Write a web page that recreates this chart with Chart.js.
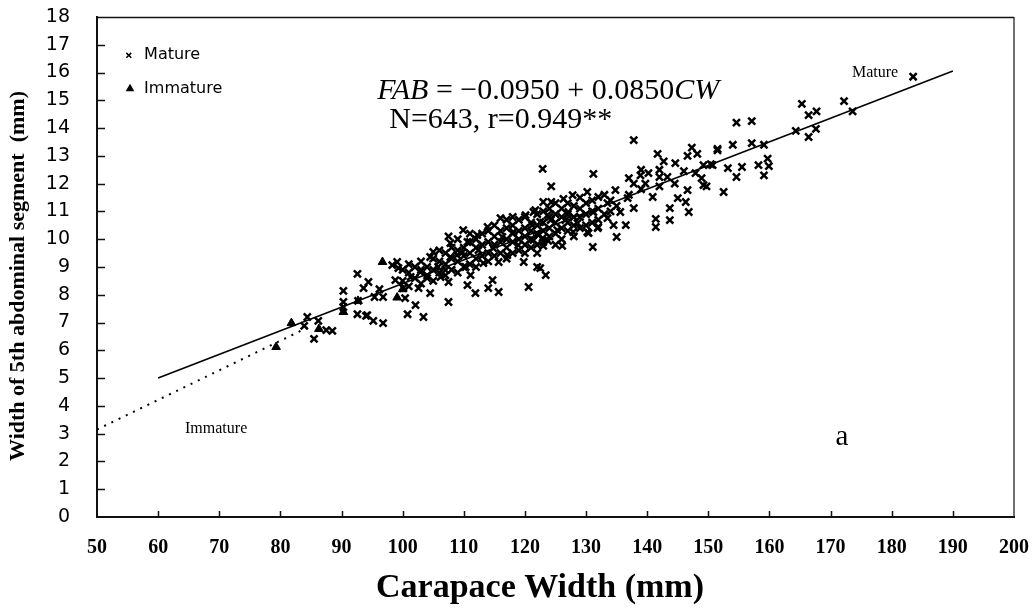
<!DOCTYPE html>
<html><head><meta charset="utf-8">
<script src="https://cdn.jsdelivr.net/npm/chart.js@4/dist/chart.umd.min.js"></script>
<style>html,body{margin:0;padding:0;background:#fff;}canvas{display:block;}</style>
</head><body>
<canvas id="c" width="1035" height="609"></canvas>
<script>
// Carapace width (mm) vs width of 5th abdominal segment (mm)
const maturePoints = [
 [83.9,6.88],[84.4,7.2],[85.5,6.41],[86.2,7.06],[87.5,6.73],[88.5,6.7],
 [90.3,8.14],[90.3,7.74],[90.3,7.56],[92.6,8.75],[92.6,7.3],[92.7,7.78],[93.6,8.24],[94.0,7.24],[94.2,7.27],[94.4,8.46],[95.2,7.06],[95.4,7.92],[96.2,8.2],[96.8,7.92],[96.8,6.98],
 [98.3,9.07],[98.8,8.53],[99.1,9.18],[99.3,8.96],[100.1,8.24],[100.4,7.88],[100.8,7.3],[101.3,8.64],[102.1,7.63],[102.6,8.24],[102.9,8.82],[103.4,7.2],[104.0,8.6],[104.5,8.06],[104.5,9.36],[105.0,9.54],[105.8,9.0],[106.2,8.64],[107.0,8.89],[107.5,8.46],[107.5,7.74],[107.5,10.1],[107.8,9.86],[107.8,9.36],[108.9,9.43],[109.9,10.33],[109.8,9.54],[110.3,9.0],[110.6,9.9],[110.6,8.35],[111.1,8.71],[111.9,8.06],[112.2,10.15],[112.4,9.61],[113.2,9.14],[113.9,10.44],[114.0,8.24],[114.7,8.53],[114.8,9.68],[115.7,8.1],[115.7,9.18],[116.0,10.76],[116.3,10.08],[117.1,9.43],[118.0,10.8],[118.1,10.26],[118.9,9.79],[119.8,9.18],[120.6,8.28],[120.1,10.87],[121.2,10.51],[121.7,11.05],[122.5,8.96],[123.4,8.71],[122.9,10.04],[123.0,11.34],[123.7,10.87],
 [122.9,12.53],[131.2,12.35],[124.3,11.9],[137.8,13.57],[141.7,13.07],[142.7,12.8],[144.6,12.74],[146.0,12.45],[147.3,13.3],[148.2,13.07],[146.6,13.0],[149.2,12.67],[151.5,13.2],[150.7,12.67],[152.5,11.7],[138.9,12.3],[140.2,12.38],[142.0,12.24],[143.3,12.24],[144.5,12.0],[147.9,12.38],[149.2,11.95],[146.6,11.77],[145.0,11.48],[146.3,11.34],[143.7,11.12],[146.8,10.98],[141.4,10.73],[143.7,10.69],[141.4,10.44],[140.9,11.52],[137.8,12.0],[139.7,12.0],[134.8,11.77],[136.8,11.48],[137.8,11.12],[135.6,10.98],[136.5,10.51],[135.0,10.08],[133.5,11.3],[132.0,11.52],[130.2,11.7],[127.8,11.59],[126.3,11.45],[124.3,11.34],[121.4,10.98],[127.1,10.98],[131.2,10.98],[133.5,10.76],[131.9,10.4],[130.4,10.22],[128.6,10.58],[126.6,10.69],[124.2,10.69],[122.5,10.62],[125.3,10.33],[127.9,10.26],[130.2,10.26],[132.0,10.44],[134.5,10.51],[131.1,9.72],[126.1,9.76],[123.8,9.94],[122.2,10.15],[122.0,9.5],[123.0,9.76],[122.0,9.0],[121.4,9.97],
 [154.6,14.2],[157.1,14.25],[154.0,13.4],[157.1,13.46],[159.1,13.4],[159.7,12.9],[158.2,12.67],[159.9,12.63],[159.1,12.3],[155.5,12.6],[154.6,12.24],[153.2,12.56],[150.4,12.7],[151.5,13.25],[148.9,12.2],[149.7,11.9],
 [164.3,13.9],[165.3,14.87],[166.4,14.47],[167.7,14.6],[167.6,13.97],[166.4,13.68],[172.2,14.97],[173.6,14.6],[183.5,15.85],
 [100,8.5],[100,8.9],[101,8.3],[101,8.8],[101,9.1],[102,8.6],[102,9.0],[103,8.4],[103,8.9],[103,9.2],[104,8.7],[104,9.0],[105,8.5],[105,8.9],[105,9.3],[106,8.8],[106,9.2],[106,9.6],[107,8.7],[107,9.1],[107,9.5],[108,8.9],[108,9.3],[108,9.7],[109,8.8],[109,9.2],[109,9.6],[109,10.0],[110,9.0],[110,9.4],[110,9.7],[111,9.1],[111,9.5],[111,9.9],[111,10.2],[112,9.0],[112,9.3],[112,9.7],[112,10.0],[113,9.4],[113,9.8],[113,10.2],[114,9.2],[114,9.5],[114,9.9],[114,10.3],[115,9.4],[115,9.8],[115,10.1],[115,10.5],[116,9.5],[116,9.9],[116,10.3],[117,9.3],[117,9.7],[117,10.0],[117,10.4],[117,10.7],[118,9.5],[118,9.9],[118,10.2],[118,10.5],[119,9.6],[119,10.0],[119,10.3],[119,10.7],[120,9.5],[120,9.8],[120,10.1],[120,10.4],[120,10.8],[121,9.7],[121,10.0],[121,10.3],[121,10.6],[122,9.8],[122,10.2],[122,10.5],[122,10.9],[123,9.9],[123,10.3],[123,10.6],[123,11.0],[124,10.1],[124,10.4],[124,10.8],[124,11.1],[125,9.8],[125,10.2],[125,10.6],[125,10.9],[125,11.3],[126,10.0],[126,10.4],[126,10.8],[126,11.1],[127,10.3],[127,10.6],[127,10.9],[127,11.3],[128,10.1],[128,10.5],[128,10.8],[128,11.2],[129,10.4],[129,10.8],[129,11.1],[129,11.5],[130,10.5],[130,10.9],[130,11.3],[131,10.6],[131,11.0],[131,11.4],[132,10.7],[132,11.1],[133,10.9],[133,11.6],[134,11.0],[134,11.4],[135,11.2],[137,11.6],[137,12.2],[139,11.8],[139,12.5],[142,11.9],[142,12.5]
];
const immaturePoints = [[79.3,6.12],[81.8,6.98],[86.3,6.77],[90.3,7.38],[92.7,7.78],[96.7,9.18],[99.1,7.9],[100.0,8.2]];
// regression lines (endpoints)
const matureLine = [[60,5.005],[190,16.055]];
const immatureLine = [[50,3.15],[85,6.88]];
const xRange = [50, 200], xStep = 10;
const yRange = [0, 18], yStep = 1;

const toXY = a => a.map(p => ({x:p[0], y:p[1]}));
const serif = '"Liberation Serif","Times New Roman",serif';
const sans = '"DejaVu Sans",sans-serif';

const decor = {
  id:'decor',
  afterDraw(chart){
    const ctx = chart.ctx, a = chart.chartArea, xs = chart.scales.x, ys = chart.scales.y;
    ctx.save();
    ctx.strokeStyle = '#111';
    // top and right frame
    ctx.lineWidth = 1.5;
    ctx.beginPath(); ctx.moveTo(a.left, a.top+0.5); ctx.lineTo(a.right, a.top+0.5); ctx.stroke();
    ctx.lineWidth = 1.2;
    ctx.beginPath(); ctx.moveTo(a.right, a.top); ctx.lineTo(a.right, a.bottom); ctx.stroke();
    // inward ticks
    ctx.lineWidth = 1.5;
    ctx.beginPath();
    for (let v = yRange[0]+yStep; v < yRange[1]; v += yStep){
      const py = Math.round(ys.getPixelForValue(v))+0.5;
      ctx.moveTo(a.left, py); ctx.lineTo(a.left+8, py);
    }
    for (let v = xRange[0]+xStep; v < xRange[1]; v += xStep){
      const px = Math.round(xs.getPixelForValue(v))+0.5;
      ctx.moveTo(px, a.bottom); ctx.lineTo(px, a.bottom-6);
    }
    ctx.stroke();
    // legend inside plot
    const H = Chart.helpers;
    ctx.fillStyle = '#000'; ctx.strokeStyle = '#000';
    H.drawPoint(ctx, {pointStyle:'crossRot', radius:3.5, borderWidth:2}, xs.getPixelForValue(55.2), ys.getPixelForValue(16.62));
    H.drawPoint(ctx, {pointStyle:'triangle', radius:3.5, borderWidth:1}, xs.getPixelForValue(55.4), ys.getPixelForValue(15.42));
    ctx.font = '16px ' + sans; ctx.textBaseline = 'middle'; ctx.textAlign = 'left';
    ctx.fillText('Mature', xs.getPixelForValue(57.7), ys.getPixelForValue(16.62));
    ctx.fillText('Immature', xs.getPixelForValue(57.7), ys.getPixelForValue(15.42));
    // equation
    ctx.textBaseline = 'alphabetic';
    let x0 = xs.getPixelForValue(95.85), y0 = ys.getPixelForValue(15.05);
    const parts = [['italic ','FAB'],['',' = \u22120.0950 + 0.0850'],['italic ','CW']];
    for (const [st, t] of parts){ ctx.font = st + '30px ' + serif; ctx.fillText(t, x0, y0); x0 += ctx.measureText(t).width; }
    ctx.font = '30px ' + serif;
    ctx.fillText('N=643, r=0.949**', xs.getPixelForValue(97.8), ys.getPixelForValue(14.0));
    ctx.font = '16px ' + serif;
    ctx.fillText('Mature', xs.getPixelForValue(173.5), ys.getPixelForValue(15.84));
    ctx.fillText('Immature', xs.getPixelForValue(64.4), ys.getPixelForValue(3.02));
    ctx.font = '29px ' + serif;
    ctx.fillText('a', xs.getPixelForValue(170.8), ys.getPixelForValue(2.59));
    // axis titles
    ctx.font = 'bold 34px ' + serif; ctx.textAlign = 'center'; ctx.textBaseline = 'middle';
    ctx.fillText('Carapace Width (mm)', 540, 588);
    ctx.save();
    ctx.translate(18, 276); ctx.rotate(-Math.PI/2);
    ctx.font = 'bold 22px ' + serif;
    ctx.fillText('Width of 5th abdominal segment  (mm)', 0, 0);
    ctx.restore();
    ctx.restore();
  }
};

new Chart(document.getElementById('c'), {
  type:'scatter',
  data:{datasets:[
    {label:'Mature', data:toXY(maturePoints), pointStyle:'crossRot', pointRadius:5, pointBorderWidth:2.5, borderColor:'#000', backgroundColor:'#000', order:2},
    {label:'Immature', data:toXY(immaturePoints), pointStyle:'triangle', pointRadius:5, pointBorderWidth:1, borderColor:'#000', backgroundColor:'#000', order:2},
    {type:'line', label:'Mature fit', data:toXY(matureLine), borderColor:'#000', borderWidth:1.6, pointRadius:0, fill:false, order:1},
    {type:'line', label:'Immature fit', data:toXY(immatureLine), borderColor:'#000', borderWidth:2, borderDash:[2,6], pointRadius:0, fill:false, order:1}
  ]},
  options:{
    responsive:false, animation:false,
    layout:{padding:{top:17, right:21, left:0, bottom:0}},
    plugins:{legend:{display:false}, tooltip:{enabled:false}},
    scales:{
      x:{type:'linear', min:xRange[0], max:xRange[1],
         ticks:{stepSize:xStep, color:'#000', padding:19, font:{family:serif, size:20, weight:'bold'}},
         grid:{display:false, drawTicks:false},
         border:{display:true, color:'#111', width:2},
         afterFit(s){ s.height = 92; s.paddingLeft = 0; s.paddingRight = 0; }},
      y:{type:'linear', min:yRange[0], max:yRange[1],
         ticks:{stepSize:yStep, color:'#000', padding:27, font:{family:sans, size:19}},
         grid:{display:false, drawTicks:false},
         border:{display:true, color:'#111', width:2},
         afterFit(s){ s.width = 97; s.paddingTop = 0; s.paddingBottom = 0; }}
    }
  },
  plugins:[decor]
});
</script>
</body></html>
